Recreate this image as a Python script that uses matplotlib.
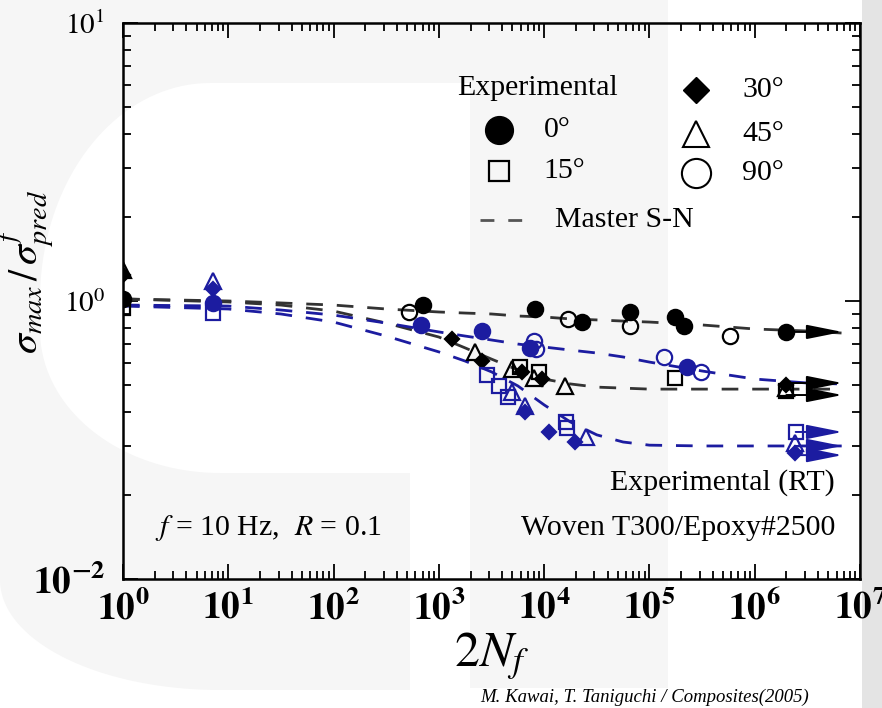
import numpy as np
import matplotlib.pyplot as plt
from matplotlib.patches import Polygon, Rectangle
from matplotlib.ticker import LogLocator, NullFormatter

plt.rcParams['font.family'] = ['Liberation Serif', 'DejaVu Serif']
plt.rcParams['mathtext.fontset'] = 'stix'

BLUE = '#1c1ca0'
DARK = '#333333'

# master S-N curves, read at fixed cycle counts
curve_n = [1, 10, 31.6, 100, 316, 1000, 1778, 3162, 5623, 1e4, 17783,
           31623, 56234, 1e5, 316228, 1e6, 3.16e6, 6.7e6]
curve_black_hi = [1.017, 1.0, 0.984, 0.967, 0.936, 0.913, 0.905, 0.898, 0.883,
                  0.876, 0.862, 0.855, 0.847, 0.840, 0.820, 0.793, 0.780, 0.767]
curve_black_lo = [1.017, 0.992, 0.967, 0.920, 0.833, 0.742, 0.678, 0.618, 0.565,
                  0.524, 0.503, 0.490, 0.486, 0.482, 0.482, 0.482, 0.482, 0.482]
curve_blue_hi = [0.967, 0.959, 0.928, 0.890, 0.833, 0.774, 0.748, 0.724, 0.700,
                 0.683, 0.666, 0.650, 0.629, 0.603, 0.560, 0.524, 0.507, 0.503]
curve_blue_lo = [0.959, 0.936, 0.898, 0.840, 0.748, 0.656, 0.608, 0.556, 0.495,
                 0.423, 0.367, 0.330, 0.311, 0.303, 0.301, 0.301, 0.301, 0.301]

# experimental points, black set
k_n_0 = [1, 705, 8200, 22900, 65000, 174000, 213000, 2.0e6]
k_s_0 = [1.02, 0.97, 0.935, 0.84, 0.91, 0.876, 0.81, 0.774]
k_n_15 = [1, 5900, 9000, 174000, 2.0e6]
k_s_15 = [0.94, 0.58, 0.555, 0.53, 0.474]
k_n_30 = [1, 1330, 2580, 6150, 9550, 2.0e6]
k_s_30 = [1.24, 0.73, 0.61, 0.555, 0.524, 0.50]
k_n_45 = [1, 2200, 5000, 8000, 15800, 2.0e6]
k_s_45 = [1.29, 0.655, 0.57, 0.53, 0.495, 0.487]
k_n_90 = [520, 16900, 65000, 580000]
k_s_90 = [0.91, 0.86, 0.81, 0.75]

# experimental points, blue set
b_n_0 = [7.2, 680, 2580, 7400, 228000]
b_s_0 = [0.98, 0.82, 0.78, 0.68, 0.58]
b_n_15 = [7.2, 2870, 3730, 4550, 16200, 16400, 2.45e6]
b_s_15 = [0.905, 0.54, 0.495, 0.45, 0.367, 0.35, 0.338]
b_n_30 = [7.2, 6600, 11000, 19600, 2.4e6]
b_s_30 = [1.10, 0.40, 0.338, 0.31, 0.284]
b_n_45 = [7.2, 4900, 6600, 25000, 2.4e6]
b_s_45 = [1.18, 0.47, 0.42, 0.324, 0.309]
b_n_90 = [8000, 8300, 137000, 309000]
b_s_90 = [0.72, 0.67, 0.63, 0.555]

# run-outs (arrows)
runout_end = 6.8e6
k_runout_n = [2.0e6, 2.0e6, 2.0e6]
k_runout_s = [0.774, 0.507, 0.459]
b_runout_n = [2.45e6, 2.4e6, 2.4e6]
b_runout_s = [0.338, 0.301, 0.279]

fig = plt.figure(figsize=(8.82, 7.08), dpi=100)
fig.patch.set_facecolor('white')

# faint background shapes
bg = fig.add_axes([0, 0, 1, 1], zorder=-1)
bg.set_xlim(0, 882)
bg.set_ylim(708, 0)
bg.axis('off')
GREY = '#f6f6f6'


def arc(cx, cy, rx, ry, a0, a1, n=40):
    t = np.radians(np.linspace(a0, a1, n))
    return np.column_stack([cx + rx * np.cos(t), cy + ry * np.sin(t)])


outer = np.vstack([[[0, 0], [470, 0], [470, 473], [410, 473], [410, 690]],
                   arc(220, 580, 220, 110, 90, 180)])
bg.add_patch(Polygon(outer, closed=True, fc=GREY, ec='none'))
hole = np.vstack([[[470, 83]], arc(210, 300, 170, 217, 270, 180),
                  arc(220, 330, 180, 143, 180, 90), [[470, 473]]])
bg.add_patch(Polygon(hole, closed=True, fc='white', ec='none'))
bg.add_patch(Rectangle((470, 0), 198, 688, fc=GREY, ec='none'))
bg.add_patch(Rectangle((862, 0), 20, 708, fc='#e4e4e4', ec='none'))

ax = fig.add_axes([123 / 882, 1 - 579 / 708, 737 / 882, 556 / 708], zorder=1)
ax.set_facecolor('none')
ax.set_xscale('log')
ax.set_yscale('log')
ax.set_xlim(1, 1e7)
ax.set_ylim(0.1, 10)

dash = dict(lw=2, dashes=(6, 5))
ax.plot(curve_n, curve_black_hi, color=DARK, **dash)
ax.plot(curve_n, curve_black_lo, color=DARK, **dash)
ax.plot(curve_n, curve_blue_hi, color=BLUE, **dash)
ax.plot(curve_n, curve_blue_lo, color=BLUE, **dash)

# run-out arrows
arrow_style = '-|>,head_length=1.1,head_width=0.22'
for n0, s0 in zip(k_runout_n, k_runout_s):
    ax.annotate('', xy=(runout_end, s0), xytext=(n0, s0),
                arrowprops=dict(arrowstyle=arrow_style, color='black', lw=1.4,
                                mutation_scale=20, shrinkA=0, shrinkB=0))
for n0, s0 in zip(b_runout_n, b_runout_s):
    ax.annotate('', xy=(runout_end, s0), xytext=(n0, s0),
                arrowprops=dict(arrowstyle=arrow_style, color=BLUE, lw=1.4,
                                mutation_scale=20, shrinkA=0, shrinkB=0))

for col, sets in [('black', [(k_n_0, k_s_0, 'o', True), (k_n_15, k_s_15, 's', False),
                             (k_n_30, k_s_30, 'D', True), (k_n_45, k_s_45, '^', False),
                             (k_n_90, k_s_90, 'o', False)]),
                  (BLUE, [(b_n_0, b_s_0, 'o', True), (b_n_15, b_s_15, 's', False),
                          (b_n_30, b_s_30, 'D', True), (b_n_45, b_s_45, '^', False),
                          (b_n_90, b_s_90, 'o', False)])]:
    for n, s, m, filled in sets:
        size = {'o': 11, 's': 10.5, 'D': 7.5, '^': 11.5}[m]
        ax.plot(n, s, ls='none', marker=m, ms=size, mec=col, mew=1.6,
                mfc=col if filled else 'none', zorder=4)

# ticks
ax.xaxis.set_minor_locator(LogLocator(base=10, subs=np.arange(2, 10), numticks=20))
ax.xaxis.set_minor_formatter(NullFormatter())
ax.set_xticks([10 ** k for k in range(8)])
ax.set_xticklabels([r'$\mathbf{10^{%d}}$' % k for k in range(8)], fontsize=27)
ax.set_yticks([0.1, 1, 10])
ax.set_yticklabels([r'$\mathbf{10^{-2}}$', r'$10^{0}$', r'$10^{1}$'], fontsize=21)
ax.get_yticklabels()[0].set_fontsize(27)
ax.yaxis.set_minor_locator(LogLocator(base=10, subs=np.arange(2, 10), numticks=20))
ax.yaxis.set_minor_formatter(NullFormatter())
ax.tick_params(which='both', direction='in', top=True, right=True, width=1.3)
ax.tick_params(which='major', length=11)
ax.tick_params(which='minor', length=6)
ax.tick_params(axis='x', pad=8)
ax.tick_params(axis='y', pad=13)
for sp in ax.spines.values():
    sp.set_linewidth(1.8)

ax.set_xlabel(r'$2N_f$', fontsize=36, labelpad=2)
ax.set_ylabel(r'$\sigma_{max}\,/\,\sigma^{f}_{pred}$', fontsize=29)
ax.yaxis.set_label_coords(-0.090, 0.552)

# key
TS = 21.5
ax.text(0.562, 0.883, 'Experimental', transform=ax.transAxes, fontsize=TS,
        ha='center', va='center')
ax.plot([0.510], [0.808], 'o', ms=20, color='black', transform=ax.transAxes)
ax.text(0.571, 0.808, '0°', transform=ax.transAxes, fontsize=TS, va='center')
ax.plot([0.510], [0.734], 's', ms=15, mfc='none', mec='black', mew=1.6,
        transform=ax.transAxes)
ax.text(0.571, 0.734, '15°', transform=ax.transAxes, fontsize=TS, va='center')
ax.plot([0.777], [0.879], 'D', ms=13, color='black', transform=ax.transAxes)
ax.text(0.840, 0.879, '30°', transform=ax.transAxes, fontsize=TS, va='center')
ax.plot([0.777], [0.801], '^', ms=19, mfc='none', mec='black', mew=1.5,
        transform=ax.transAxes)
ax.text(0.840, 0.801, '45°', transform=ax.transAxes, fontsize=TS, va='center')
ax.plot([0.777], [0.730], 'o', ms=21, mfc='none', mec='black', mew=1.5,
        transform=ax.transAxes)
ax.text(0.840, 0.730, '90°', transform=ax.transAxes, fontsize=TS, va='center')
ax.plot([0.484, 0.559], [0.646, 0.646], color='#555555', lw=2, dashes=(5, 5),
        transform=ax.transAxes)
ax.text(0.586, 0.646, 'Master S-N', transform=ax.transAxes, fontsize=TS, va='center')

ax.text(0.966, 0.173, 'Experimental (RT)', transform=ax.transAxes, fontsize=TS,
        ha='right', va='center')
ax.text(0.966, 0.092, 'Woven T300/Epoxy#2500', transform=ax.transAxes, fontsize=TS,
        ha='right', va='center')
ax.text(0.043, 0.092, r'$f$ = 10 Hz,  $R$ = 0.1', transform=ax.transAxes,
        fontsize=TS, va='center')

fig.text(480 / 882, 1 - 697 / 708, 'M. Kawai, T. Taniguchi / Composites(2005)',
         fontsize=13.5, style='italic', va='center')

fig.savefig('out.png', dpi=100)
